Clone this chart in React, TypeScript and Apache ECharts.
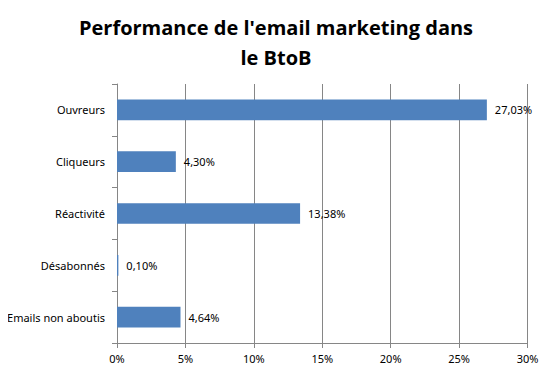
import React, { useEffect, useRef } from "react";
import * as echarts from "echarts";

const categories = ["Ouvreurs", "Cliqueurs", "Réactivité", "Désabonnés", "Emails non aboutis"];
const values = [27.03, 4.3, 13.38, 0.1, 4.64];
const xTicks = [0, 5, 10, 15, 20, 25, 30];
const titleText = "Performance de l'email marketing dans\nle BtoB";

export default function App() {
  const ref = useRef<HTMLDivElement>(null);
  useEffect(() => {
    if (!ref.current) return;
    const chart = echarts.init(ref.current, undefined, { renderer: "svg" });
    const axisGray = "#868686";
    const labelFont = "Noto Sans";
    chart.setOption({
      animation: false,
      backgroundColor: "#ffffff",
      title: {
        text: titleText,
        left: "center",
        top: 7,
        textStyle: {
          fontFamily: "Open Sans",
          fontWeight: "bold",
          fontSize: 20,
          lineHeight: 30,
          color: "#000000",
        },
      },
      grid: { left: 117, right: 24.5, top: 84, bottom: 29, containLabel: false },
      xAxis: {
        type: "value",
        min: xTicks[0],
        max: xTicks[xTicks.length - 1],
        interval: 5,
        axisLine: { show: true, lineStyle: { color: axisGray, width: 1 } },
        axisTick: { show: true, length: 5, lineStyle: { color: axisGray } },
        splitLine: { show: true, lineStyle: { color: axisGray, width: 1 } },
        axisLabel: {
          formatter: (v: number) => v + "%",
          color: "#000000",
          fontFamily: labelFont,
          fontSize: 11,
          margin: 10,
        },
      },
      yAxis: {
        type: "category",
        data: categories,
        inverse: true,
        axisLine: { show: true, lineStyle: { color: axisGray, width: 1 } },
        axisTick: { show: true, length: 5, alignWithLabel: false, lineStyle: { color: axisGray } },
        axisLabel: {
          color: "#000000",
          fontFamily: labelFont,
          fontSize: 11,
          margin: 12,
        },
      },
      series: [
        {
          type: "bar",
          data: values,
          barWidth: "40%",
          itemStyle: { color: "#4F81BD" },
          label: {
            show: true,
            position: "right",
            distance: 8,
            color: "#000000",
            fontFamily: labelFont,
            fontSize: 11,
            formatter: (p: any) => p.value.toFixed(2).replace(".", ",") + "%",
          },
        },
      ],
    });
    return () => chart.dispose();
  }, []);
  return <div ref={ref} style={{ width: 552, height: 372, margin: -8 }} />;
}
